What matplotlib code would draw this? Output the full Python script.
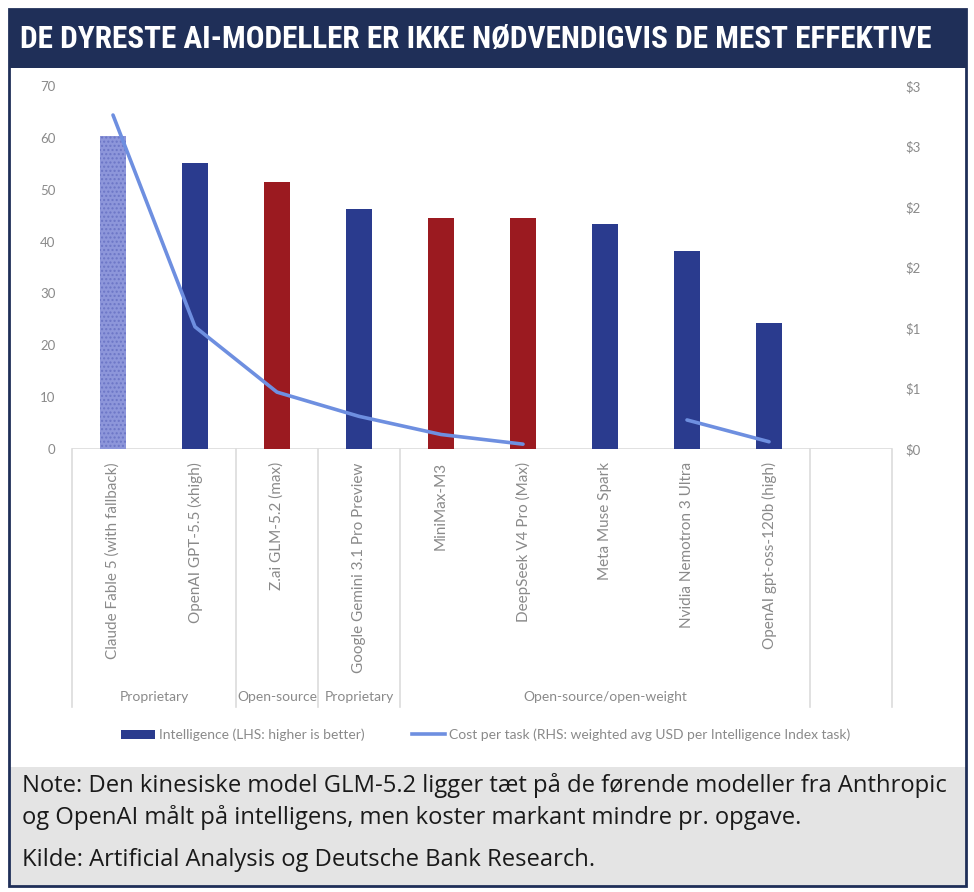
import matplotlib
matplotlib.use("Agg")
import matplotlib.pyplot as plt
import numpy as np
from matplotlib.patches import Rectangle, Patch
from matplotlib.lines import Line2D
from matplotlib.transforms import blended_transform_factory

# ---------------- data ----------------
categories = [
    "Claude Fable 5 (with fallback)",
    "OpenAI GPT-5.5 (xhigh)",
    "Z.ai GLM-5.2 (max)",
    "Google Gemini 3.1 Pro Preview",
    "MiniMax-M3",
    "DeepSeek V4 Pro (Max)",
    "Meta Muse Spark",
    "Nvidia Nemotron 3 Ultra",
    "OpenAI gpt-oss-120b (high)",
    "",
]
intelligence = [60.3, 55.2, 51.4, 46.3, 44.5, 44.5, 43.4, 38.2, 24.3, np.nan]
cost_per_task = [2.76, 1.01, 0.47, 0.27, 0.12, 0.04, np.nan, 0.24, 0.06, np.nan]
bar_kind = ["hatched", "proprietary", "open", "proprietary", "open", "open",
            "proprietary", "proprietary", "proprietary", None]
groups = ["Proprietary", "Open-source", "Proprietary", "Open-source/open-weight", ""]
group_edges = [-0.5, 1.5, 2.5, 3.5, 8.5, 9.5]
left_ticks = [0, 10, 20, 30, 40, 50, 60, 70]
right_ticks = [0, 0.5, 1.0, 1.5, 2.0, 2.5, 3.0]

title = "DE DYRESTE AI-MODELLER ER IKKE NØDVENDIGVIS DE MEST EFFEKTIVE"
note_lines = [
    "Note: Den kinesiske model GLM-5.2 ligger tæt på de førende modeller fra Anthropic",
    "og OpenAI målt på intelligens, men koster markant mindre pr. opgave.",
]
source = "Kilde: Artificial Analysis og Deutsche Bank Research."
legend_labels = ["Intelligence (LHS: higher is better)",
                 "Cost per task (RHS: weighted avg USD per Intelligence Index task)"]

# ---------------- styles ----------------
NAVY_BAND = "#1f2f58"
BAR_NAVY = "#2a3b8e"
BAR_RED = "#9b1a20"
BAR_LIGHT = "#8d96da"
HATCH_COL = "#6c76c6"
LINE_COL = "#6e8fe0"
GRAY_TXT = "#8a8a8a"
GRID_COL = "#dcdcdc"
NOTE_BG = "#e4e4e4"

W, H = 974, 892
fig = plt.figure(figsize=(W / 100, H / 100), dpi=100)
fig.patch.set_facecolor("white")

def fx(px):
    return px / W

def fy(py):
    return 1 - py / H

chart_font = ["Lato", "DejaVu Sans"]

# frame pieces
fig.add_artist(Rectangle((fx(9), fy(68)), fx(966) - fx(9), fy(9) - fy(68),
                         transform=fig.transFigure, facecolor=NAVY_BAND,
                         edgecolor="none", zorder=0))
fig.add_artist(Rectangle((fx(9), fy(886)), fx(966) - fx(9), fy(767) - fy(886),
                         transform=fig.transFigure, facecolor=NOTE_BG,
                         edgecolor="none", zorder=0))
fig.add_artist(Rectangle((fx(9), fy(886)), fx(966) - fx(9), fy(9) - fy(886),
                         transform=fig.transFigure, facecolor="none",
                         edgecolor=NAVY_BAND, linewidth=2.0, zorder=5))

# ---------------- axes ----------------
ax = fig.add_axes([fx(72), fy(449), fx(892) - fx(72), fy(86) - fy(449)])
ax.set_facecolor("none")
x = np.arange(len(categories))
ax.set_xlim(-0.5, len(categories) - 0.5)
ax.set_ylim(0, 70)

colors = {"proprietary": BAR_NAVY, "open": BAR_RED, "hatched": BAR_LIGHT}
for i, (v, k) in enumerate(zip(intelligence, bar_kind)):
    if k is None or np.isnan(v):
        continue
    if k == "hatched":
        ax.bar(x[i], v, width=0.32, color=BAR_LIGHT, edgecolor=HATCH_COL,
               hatch="....", linewidth=0, zorder=2)
    else:
        ax.bar(x[i], v, width=0.32, color=colors[k], linewidth=0, zorder=2)

for s in ax.spines.values():
    s.set_visible(False)
ax.axhline(0, color=GRID_COL, linewidth=1.2, zorder=1)

ax.set_yticks(left_ticks)
ax.set_yticklabels([str(t) for t in left_ticks], fontfamily=chart_font)
ax.tick_params(axis="y", length=0, pad=12, labelcolor=GRAY_TXT, labelsize=9.5)

ax.set_xticks(x[:-1])
ax.set_xticklabels(categories[:-1], rotation=90, va="top", ha="center",
                   fontfamily=chart_font)
ax.tick_params(axis="x", length=0, pad=9.5, labelcolor=GRAY_TXT, labelsize=11)

ax2 = ax.twinx()
ax2.set_ylim(0, 3)
ax2.plot(x, cost_per_task, color=LINE_COL, linewidth=2.6, zorder=3,
         solid_capstyle="round")
for s in ax2.spines.values():
    s.set_visible(False)
ax2.set_yticks(right_ticks)
ax2.set_yticklabels([f"${int(t + 0.5)}" for t in right_ticks], fontfamily=chart_font)
ax2.tick_params(axis="y", length=0, pad=9.5, labelcolor=GRAY_TXT, labelsize=9.5)

# group separators and labels below the axis
trans = blended_transform_factory(ax.transData, ax.transAxes)
y_bottom = (449 - 707) / 363.0
y_label = (449 - 697) / 363.0
for e in group_edges:
    ax.add_line(Line2D([e, e], [0, y_bottom], transform=trans, color=GRID_COL,
                       linewidth=1.2, clip_on=False))
for j, g in enumerate(groups):
    if not g:
        continue
    cx = (group_edges[j] + group_edges[j + 1]) / 2
    ax.text(cx, y_label, g, transform=trans, ha="center", va="center",
            color=GRAY_TXT, fontsize=10, fontfamily=chart_font)

# legend
handles = [Patch(facecolor=BAR_NAVY, edgecolor="none"),
           Line2D([0], [0], color=LINE_COL, linewidth=2.6)]
leg = fig.legend(handles, legend_labels, loc="center",
                 bbox_to_anchor=(fx(486), fy(735)), ncol=2, frameon=False,
                 handlelength=2.4, handletextpad=0.3, columnspacing=3.4,
                 prop={"family": chart_font, "size": 10})
for t in leg.get_texts():
    t.set_color(GRAY_TXT)

# title, fitted to width
ttl = fig.text(fx(20), fy(39), title, color="white", fontsize=30,
               fontweight="heavy", ha="left", va="center",
               fontfamily=["Roboto Condensed", "Liberation Sans Narrow",
                           "Roboto", "DejaVu Sans"])
fig.canvas.draw()
w = ttl.get_window_extent().width
ttl.set_fontsize(30 * 912 / w)

# note text, first line fitted to width
note_font = ["Open Sans", "DejaVu Sans"]
nt1 = fig.text(fx(22), fy(786), note_lines[0], fontsize=14, color="#1a1a1a",
               ha="left", va="center", fontfamily=note_font)
fig.canvas.draw()
nsize = 14 * 926 / nt1.get_window_extent().width
nt1.set_fontsize(nsize)
fig.text(fx(22), fy(818), note_lines[1], fontsize=nsize, color="#1a1a1a",
         ha="left", va="center", fontfamily=note_font)
fig.text(fx(22), fy(860), source, fontsize=nsize, color="#1a1a1a",
         ha="left", va="center", fontfamily=note_font)

fig.savefig("out.png", dpi=100, facecolor="white")
